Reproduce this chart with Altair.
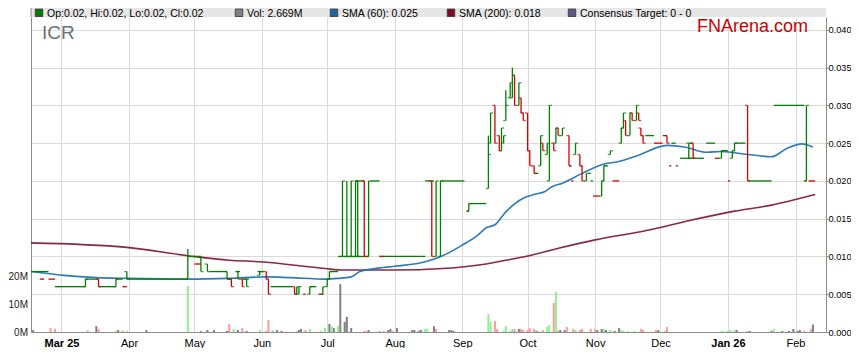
import altair as alt
import pandas as pd

BASE = "2025-02-15"   # left edge of the time window; day numbers below count from it

# ---------------- price: stretches of sessions with an unchanged price ----------------
run_start = [0, 4, 8, 11, 25, 31, 39, 42, 44, 72,
             75, 82, 90, 94, 97, 104, 110, 125, 128, 132,
             137, 141, 143, 153, 149, 156, 160, 160, 181, 188,
             200, 201, 231, 247, 248, 256, 257, 258, 263, 267,
             282, 286, 290, 293, 296, 294, 298, 302, 310, 314,
             317, 320, 323, 329, 341, 355, 357]
run_end = [8, 6, 11, 25, 31, 39, 42, 44, 72, 78,
           78, 90, 92, 96, 100, 107, 120, 126, 131, 134,
           141, 143, 153, 155, 153, 160, 181, 162, 185, 199,
           201, 209, 233, 248, 249, 257, 258, 261, 265, 270,
           286, 290, 292, 294, 297, 296, 309, 304, 314, 316,
           320, 321, 328, 340, 355, 356, 360]
run_price = [.008, .007, .007, .006, .007, .006, .007, .006, .007, .010,
             .009, .008, .007, .008, .007, .008, .006, .005, .006, .005,
             .008, .010, .010, .010, .020, .020, .010, .010, .020, .020,
             .016, .017, .021, .022, .020, .021, .020, .018, .022, .020,
             .026, .025, .026, .022, .022, .025, .023, .025, .025, .023,
             .024, .020, .025, .020, .030, .020, .020]
run_dir = ["u", "d", "d", "u", "u", "u", "u", "d", "u", "u",
           "d", "u", "u", "u", "u", "u", "u", "d", "u", "d",
           "u", "u", "u", "d", "u", "u", "u", "d", "u", "u",
           "d", "u", "u", "d", "d", "u", "u", "d", "u", "d",
           "u", "d", "u", "d", "d", "u", "u", "u", "u", "d",
           "u", "d", "u", "u", "u", "d", "d"]

# ---------------- price: sessions with a range (OHLC) ----------------
bar_day = [25, 31, 39, 44, 72, 78, 81, 90, 92, 95,
           97, 99, 105, 108, 109, 121, 122, 123, 128, 134,
           136, 137, 143, 145, 147, 149, 150, 153, 155, 184,
           186, 188, 201, 210, 211, 213, 215, 216, 217, 218,
           220, 221, 222, 224, 225, 226, 228, 229, 231, 234,
           235, 237, 238, 240, 241, 242, 244, 247, 250, 252,
           253, 255, 262, 263, 266, 271, 272, 273, 275, 276,
           278, 279, 280, 281, 292, 302, 304, 317, 322, 323,
           329, 356]
bar_open = [.006, .007, .006, .008, .007, .010, .009, .008, .007, .008,
            .007, .007, .0075, .008, .007, .006, .005, .005, .005, .005,
            .006, .007, .010, .010, .010, .010, .020, .020, .010, .020,
            .010, .010, .016, .019, .025, .030, .026, .024, .025, .028,
            .031, .031, .034, .030, .031, .029, .029, .024, .022, .022,
            .025, .0235, .020, .025, .025, .027, .026, .026, .0235, .0235,
            .022, .020, .018, .020, .0235, .025, .027, .028, .026, .029,
            .028, .029, .027, .026, .026, .025, .025, .023, .023, .024,
            .030, .020]
bar_high = [.007, .007, .007, .008, .011, .010, .009, .008, .007, .008,
            .007, .007, .008, .008, .007, .006, .006, .006, .006, .006,
            .007, .008, .020, .020, .020, .020, .020, .020, .020, .020,
            .020, .020, .017, .026, .029, .030, .026, .027, .026, .032,
            .033, .035, .034, .033, .031, .029, .029, .024, .022, .026,
            .025, .025, .030, .025, .027, .027, .027, .026, .025, .0235,
            .022, .021, .020, .022, .024, .027, .029, .028, .029, .029,
            .030, .029, .027, .026, .026, .025, .025, .024, .024, .025,
            .030, .030]
bar_low = [.006, .006, .006, .007, .007, .008, .008, .007, .006, .007,
           .006, .006, .0075, .007, .005, .005, .005, .005, .005, .005,
           .006, .007, .010, .010, .010, .010, .010, .010, .010, .010,
           .010, .010, .016, .019, .025, .025, .024, .024, .025, .028,
           .031, .031, .030, .030, .029, .028, .024, .022, .021, .022,
           .024, .0235, .020, .024, .025, .026, .026, .022, .0235, .022,
           .020, .020, .018, .020, .0235, .025, .027, .026, .026, .028,
           .028, .028, .026, .025, .025, .023, .023, .023, .023, .024,
           .020, .020]
bar_close = [.007, .006, .007, .007, .010, .008, .008, .007, .006, .007,
             .006, .006, .008, .007, .005, .005, .006, .006, .006, .006,
             .007, .008, .020, .010, .020, .020, .010, .010, .020, .010,
             .020, .020, .017, .0235, .029, .025, .024, .027, .026, .030,
             .033, .034, .030, .033, .029, .028, .024, .022, .021, .026,
             .024, .025, .030, .024, .027, .026, .027, .022, .025, .022,
             .020, .021, .020, .022, .024, .027, .029, .026, .029, .028,
             .030, .028, .026, .025, .025, .023, .023, .024, .024, .025,
             .020, .030]
bar_dir = ["u", "d", "u", "u", "u", "u", "u", "u", "d", "u",
           "d", "u", "u", "d", "d", "d", "u", "u", "u", "u",
           "u", "u", "u", "u", "u", "u", "u", "d", "u", "d",
           "u", "u", "u", "u", "u", "d", "d", "u", "u", "u",
           "u", "u", "d", "u", "d", "d", "d", "d", "d", "u",
           "d", "u", "u", "d", "u", "d", "u", "d", "u", "d",
           "d", "u", "u", "u", "u", "u", "u", "d", "u", "d",
           "u", "d", "d", "d", "d", "u", "d", "u", "u", "u",
           "d", "u"]

# ---------------- volume (millions) ----------------
vol_day = [1, 9, 11, 26, 30, 31, 39, 40, 42, 44,
           53, 72, 78, 81, 84, 90, 91, 93, 95, 97,
           99, 105, 108, 109, 111, 113, 115, 122, 123, 124,
           126, 128, 133, 135, 137, 138, 139, 141, 142, 144,
           145, 147, 153, 154, 155, 160, 162, 164, 165, 166,
           168, 175, 176, 178, 179, 181, 182, 185, 186, 192,
           193, 194, 210, 211, 213, 214, 217, 218, 220, 221,
           222, 224, 225, 226, 228, 229, 231, 232, 233, 235,
           237, 238, 240, 241, 242, 243, 245, 246, 249, 250,
           252, 253, 257, 259, 260, 262, 263, 264, 266, 268,
           270, 271, 272, 274, 277, 280, 281, 287, 288, 291,
           292, 317, 320, 321, 323, 324, 329, 330, 340, 341,
           345, 348, 350, 352, 353, 355, 358, 359]
vol_m = [0.7, 1.4, 1.1, 0.7, 2.1, 1.1, 0.4, 0.7, 0.5, 0.3,
         0.7, 16.4, 0.3, 0.7, 0.7, 0.4, 2.9, 1.1, 0.7, 1.4,
         0.4, 0.7, 0.4, 4.3, 0.7, 0.7, 0.4, 0.4, 0.7, 1.1,
         0.7, 1.1, 0.4, 1.4, 2.9, 2.1, 1.4, 2.1, 17.1, 3.6,
         5.4, 1.4, 0.4, 0.4, 0.7, 0.4, 0.4, 0.7, 1.1, 0.4,
         1.4, 0.7, 0.7, 0.4, 0.7, 1.1, 1.1, 2.1, 1.1, 0.7,
         0.7, 0.4, 6.4, 3.6, 3.9, 1.1, 0.4, 2.1, 0.4, 1.1,
         1.1, 1.1, 1.1, 0.7, 0.7, 1.4, 1.1, 0.4, 0.4, 0.7,
         1.8, 2.5, 10.4, 14.3, 0.4, 0.7, 0.7, 1.8, 1.1, 0.7,
         0.7, 1.1, 1.1, 1.1, 0.7, 1.1, 1.1, 0.7, 0.7, 0.4,
         1.4, 0.7, 0.4, 0.4, 0.4, 1.1, 0.7, 0.7, 0.7, 0.4,
         1.8, 0.4, 0.4, 0.7, 0.7, 0.7, 0.4, 0.4, 0.4, 1.1,
         0.4, 0.4, 1.1, 0.4, 0.7, 0.4, 1.1, 2.669]
vol_dir = ["f", "d", "d", "u", "f", "d", "u", "f", "d", "u",
           "f", "u", "f", "f", "f", "f", "d", "u", "f", "d",
           "f", "u", "d", "d", "u", "f", "f", "u", "f", "f",
           "d", "u", "u", "u", "f", "u", "f", "u", "f", "f",
           "f", "f", "d", "d", "f", "d", "d", "f", "f", "d",
           "f", "f", "f", "f", "f", "u", "u", "f", "d", "f",
           "f", "f", "u", "u", "d", "d", "u", "u", "u", "u",
           "d", "f", "d", "d", "d", "d", "d", "f", "u", "d",
           "u", "u", "d", "u", "d", "f", "f", "d", "d", "u",
           "d", "d", "d", "d", "f", "f", "u", "f", "u", "f",
           "f", "u", "u", "u", "u", "d", "d", "d", "f", "u",
           "d", "u", "u", "u", "u", "f", "d", "f", "f", "u",
           "f", "f", "f", "f", "f", "d", "d", "f"]

# ---------------- moving averages ----------------
sma60_day = [0, 15, 30, 44, 72, 91, 108, 119, 135, 141,
             147, 151, 158, 167, 181, 189, 198, 205, 209, 213,
             218, 226, 231, 236, 239, 244, 253, 264, 269, 278,
             292, 300, 310, 317, 329, 340, 347, 354, 356, 359]
sma60_val = [.0080, .0075, .0072, .0071, .0070, .0071, .0073, .0072, .0070, .0071,
             .0073, .0080, .0084, .0087, .0093, .0101, .0115, .0128, .0138, .0142,
             .0159, .0177, .0182, .0186, .0192, .0197, .0210, .0223, .0225, .0233,
             .0247, .0245, .0238, .0239, .0235, .0232, .0243, .0249, .0248, .0245]
sma200_day = [0, 44, 72, 91, 105, 135, 143, 167, 189, 209,
              218, 227, 241, 259, 282, 303, 323, 340, 360]
sma200_val = [.0118, .0112, .0101, .0095, .0093, .0084, .0082, .0082, .0084, .0090,
              .0095, .0100, .0110, .0122, .0134, .0148, .0160, .0168, .0182]

price_ticks = [0.0, 0.005, 0.010, 0.015, 0.020, 0.025, 0.030, 0.035, 0.040]
vol_ticks = [0, 10, 20]

legend_labels = ["Op:0.02, Hi:0.02, Lo:0.02, Cl:0.02", "Vol: 2.669M", "SMA (60): 0.025",
                 "SMA (200): 0.018", "Consensus Target: 0 - 0"]
legend_colors = ["#007a00", "#7f7f7f", "#1c65a6", "#7d0a2a", "#5a5a8c"]
legend_x = [8, 208, 303, 420, 541]          # layout: square centres in px
ticker = "ICR"
brand = "FNArena.com"

# ---------------- tables ----------------
base = pd.Timestamp(BASE)


def to_dates(days):
    return base + pd.to_timedelta(days, unit="D")


runs_df = pd.DataFrame({"start": to_dates(run_start), "end": to_dates(run_end),
                        "price": run_price, "dir": run_dir})
bars_df = pd.DataFrame({"date": to_dates(bar_day), "open": bar_open, "high": bar_high,
                        "low": bar_low, "close": bar_close, "dir": bar_dir})
vol_df = pd.DataFrame({"date": to_dates(vol_day), "vol": vol_m, "dir": vol_dir})
sma60_df = pd.DataFrame({"date": to_dates(sma60_day), "val": sma60_val})
sma200_df = pd.DataFrame({"date": to_dates(sma200_day), "val": sma200_val})
one = pd.DataFrame({"k": [0]})

FONT = "Liberation Sans"
W, H = 795, 315
YEAR_TEST = "(month(datum.value) == 0 || (month(datum.value) == 2 && year(datum.value) == 2025))"

x_scale = alt.Scale(domain=[alt.DateTime(year=2025, month=2, date=15),
                            alt.DateTime(year=2026, month=2, date=15)],
                    nice=False, padding=0)
x_axis = alt.Axis(tickCount={"interval": "month", "step": 1}, grid=True, ticks=False,
                  labelPadding=5, labelFlush=False, labelOverlap=False,
                  labelExpr=YEAR_TEST + " ? timeFormat(datum.value, '%b %y') : timeFormat(datum.value, '%b')",
                  labelFontWeight={"condition": {"test": YEAR_TEST, "value": "bold"}, "value": "normal"})


def X(field):
    return alt.X(f"{field}:T", scale=x_scale, axis=x_axis, title=None)


price_scale = alt.Scale(domain=[0, 0.0417], nice=False, zero=False, padding=0)
price_axis = alt.Axis(orient="right", values=price_ticks, format=".3f", grid=True,
                      tickSize=2, labelPadding=0, labelFontSize=9.2)


def YP(field):
    return alt.Y(f"{field}:Q", scale=price_scale, axis=price_axis, title=None)


price_color = alt.Color("dir:N", scale=alt.Scale(domain=["u", "d"], range=["#008000", "#d80000"]),
                        legend=None)

vol = alt.Chart(vol_df).mark_bar(size=2).encode(
    x=X("date"),
    y=alt.Y("vol:Q", scale=alt.Scale(domain=[0, 112.5], nice=False, padding=0),
            axis=alt.Axis(orient="left", values=vol_ticks, labelExpr="datum.value + 'M'",
                          grid=False, ticks=False, labelPadding=3.5, labelFontSize=10,
                          labelColor="#222222"), title=None),
    color=alt.Color("dir:N", scale=alt.Scale(domain=["u", "d", "f"],
                                             range=["#8ef08e", "#ff9a9a", "#7f7f7f"]), legend=None),
)

sma200 = alt.Chart(sma200_df).mark_line(color="#7d0f30", strokeWidth=1.6, interpolate="monotone",
                                        opacity=0.9).encode(x=X("date"), y=YP("val"))
sma60 = alt.Chart(sma60_df).mark_line(color="#2474b5", strokeWidth=1.6, interpolate="monotone",
                                      opacity=0.95).encode(x=X("date"), y=YP("val"))
runs = alt.Chart(runs_df).mark_rule(strokeWidth=1.3).encode(
    x=X("start"), x2=alt.X2("end:T"), y=YP("price"), color=price_color)
bars_v = alt.Chart(bars_df).mark_rule(strokeWidth=1.3).encode(
    x=X("date"), y=YP("low"), y2=alt.Y2("high:Q"), color=price_color)
open_t = alt.Chart(bars_df).mark_tick(orient="horizontal", size=2.6, thickness=1.3, xOffset=-1.3).encode(
    x=X("date"), y=YP("open"), color=price_color)
close_t = alt.Chart(bars_df).mark_tick(orient="horizontal", size=2.6, thickness=1.3, xOffset=1.3).encode(
    x=X("date"), y=YP("close"), color=price_color)

price = alt.layer(sma200, sma60, runs, bars_v, open_t, close_t)

# header band and annotations
LEG_Y = -4.2
ann = [
    alt.Chart(one).mark_rect(color="#e6e6e6").encode(
        x=alt.value(0), x2=alt.value(W), y=alt.value(-15), y2=alt.value(0)),
    alt.Chart(one).mark_rule(color="#8c8c8c").encode(
        x=alt.value(0), y=alt.value(-15), y2=alt.value(0)),
    alt.Chart(one).mark_text(align="left", baseline="alphabetic", font=FONT, fontSize=19,
                             color="#6f6f6f").encode(
        x=alt.value(11), y=alt.value(22), text=alt.value(ticker)),
    alt.Chart(one).mark_text(align="right", baseline="alphabetic", font=FONT, fontSize=18,
                             color="#cc0000").encode(
        x=alt.value(777), y=alt.value(15), text=alt.value(brand)),
]
for lab, col, lx in zip(legend_labels, legend_colors, legend_x):
    ann.append(alt.Chart(one).mark_square(size=56, color=col, opacity=1, stroke="#333333",
                                          strokeWidth=0.8).encode(
        x=alt.value(lx), y=alt.value(LEG_Y)))
    ann.append(alt.Chart(one).mark_text(align="left", baseline="middle", font=FONT, fontSize=10.5,
                                        color="#000000").encode(
        x=alt.value(lx + 8), y=alt.value(LEG_Y + 1.1), text=alt.value(lab)))

# svg is kept 843 px wide so the page does not shrink it to fit the window
chart = alt.layer(vol, price, *ann).resolve_scale(
    y="independent", color="independent"
).properties(
    width=W, height=H,
    autosize=alt.AutoSizeParams(type="none"),
    padding={"left": 23, "top": 9, "right": 25, "bottom": 16},
).configure_axis(
    labelFont=FONT, labelFontSize=11, labelColor="#000000",
    domainColor="#8c8c8c", tickColor="#8c8c8c", gridColor="#dadada", gridWidth=1,
).configure_view(stroke=None)

chart.save("out.html", embed_options={"renderer": "svg", "actions": False})
